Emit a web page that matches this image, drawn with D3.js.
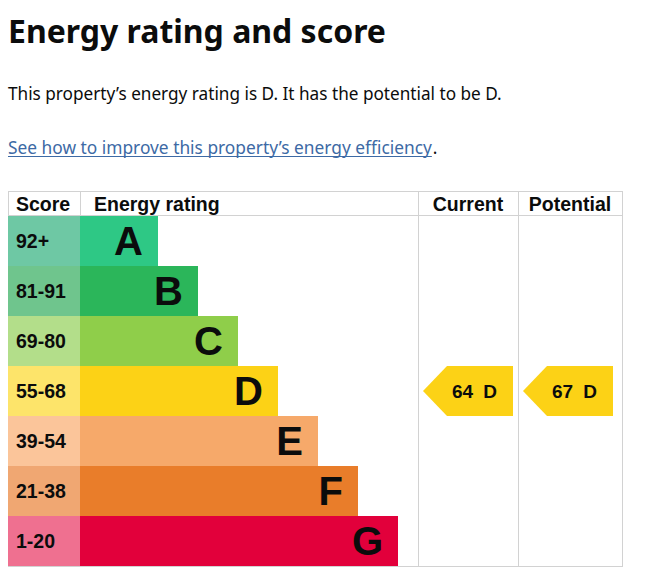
<!DOCTYPE html>
<meta charset="utf-8">
<style>
body { margin: 0; background: #fff; }
.gds { font-family: "Noto Sans", "DejaVu Sans", sans-serif; fill: #0b0c0c; }
.tbl { font-family: "Liberation Sans", Arial, sans-serif; font-weight: bold; fill: #0b0c0c; }
</style>
<svg width="651" height="586"></svg>
<script src="https://cdnjs.cloudflare.com/ajax/libs/d3/7.8.5/d3.min.js"></script>
<script>

// ---- data ----
var ratings = ["A", "B", "C", "D", "E", "F", "G"];
var scoreRanges = ["92+", "81-91", "69-80", "55-68", "39-54", "21-38", "1-20"];
var barColors = ["#2ec885", "#2bb65a", "#8fce4a", "#fcd216", "#f6a96a", "#e97d2a", "#e2003b"];
var scoreColors = ["#6ec8a4", "#6fc58d", "#b3de8a", "#fde46a", "#fbc59a", "#f0a772", "#ef7090"];
var columns = ["Score", "Energy rating", "Current", "Potential"];
var markers = [
  {column: "Current", score: 64, rating: "D"},
  {column: "Potential", score: 67, rating: "D"}
];

var svg = d3.select("svg");

// ---- heading text ----
function fitText(sel, target) {
  var w = sel.node().getComputedTextLength();
  var fs = parseFloat(sel.attr("font-size"));
  sel.attr("font-size", (fs * target / w).toFixed(2) + "px");
}

var title = svg.append("text")
  .attr("class", "gds")
  .attr("x", 8).attr("y", 43)
  .attr("font-size", "35px")
  .attr("font-weight", 700)
  .text("Energy rating and score");
fitText(title, 378);

var para = svg.append("text")
  .attr("class", "gds")
  .attr("x", 8).attr("y", 100)
  .attr("font-size", "19px")
  .text("This property\u2019s energy rating is D. It has the potential to be D.");
fitText(para, 494);

var link = svg.append("text")
  .attr("class", "gds")
  .attr("x", 8).attr("y", 154)
  .attr("font-size", "18px")
  .style("fill", "#3d6aa5")
  .text("See how to improve this property\u2019s energy efficiency");
fitText(link, 424);
var linkW = link.node().getComputedTextLength();
svg.append("line")
  .attr("x1", 8).attr("x2", 8 + linkW)
  .attr("y1", 156.5).attr("y2", 156.5)
  .attr("stroke", "#3d6aa5").attr("stroke-width", 1);
svg.append("text")
  .attr("class", "gds")
  .attr("x", 8 + linkW + 1).attr("y", 154)
  .attr("font-size", link.attr("font-size"))
  .text(".");

// ---- table layout ----
var tableLeft = 8, tableRight = 622, headTop = 191, headBottom = 216, tableBottom = 566;
var colEdges = [8, 80, 418, 518, 622];

var y = d3.scaleBand()
  .domain(ratings)
  .range([headBottom, tableBottom]);

// bar end grows with rating index
var barEnd = d3.scaleLinear()
  .domain([0, ratings.length - 1])
  .range([158, 398]);

var colX = d3.scaleOrdinal().domain(columns).range(colEdges.slice(0, 4));
var colW = d3.scaleOrdinal().domain(columns).range(colEdges.slice(1).map(function(e, i) { return e - colEdges[i]; }));

var grid = svg.append("g").attr("stroke", "#d2d2d2").attr("stroke-width", 1).attr("fill", "none");
grid.append("line").attr("x1", tableLeft).attr("x2", tableRight + 0.5).attr("y1", headTop + 0.5).attr("y2", headTop + 0.5);
grid.append("line").attr("x1", tableLeft).attr("x2", tableRight + 0.5).attr("y1", headBottom - 0.5).attr("y2", headBottom - 0.5);
grid.append("line").attr("x1", tableLeft).attr("x2", tableRight + 0.5).attr("y1", tableBottom + 0.5).attr("y2", tableBottom + 0.5);
grid.selectAll("line.v")
  .data(colEdges)
  .enter().append("line")
  .attr("class", "v")
  .attr("x1", function(d) { return d + 0.5; })
  .attr("x2", function(d) { return d + 0.5; })
  .attr("y1", headTop)
  .attr("y2", function(d, i) { return (i === 0 || i === 1) ? headBottom : tableBottom + 1; });

// header labels
var headerX = {"Score": 16, "Energy rating": 94};
svg.selectAll("text.head")
  .data(columns)
  .enter().append("text")
  .attr("class", "tbl head")
  .attr("font-size", "19.5px")
  .attr("y", 211)
  .attr("x", function(d) {
    return headerX[d] !== undefined ? headerX[d] : colX(d) + colW(d) / 2;
  })
  .attr("text-anchor", function(d) { return headerX[d] !== undefined ? "start" : "middle"; })
  .text(function(d) { return d; });

// rows
var rows = svg.selectAll("g.row")
  .data(ratings)
  .enter().append("g")
  .attr("class", "row")
  .attr("transform", function(d) { return "translate(0," + y(d) + ")"; });

rows.append("rect")
  .attr("x", colEdges[0])
  .attr("width", colEdges[1] - colEdges[0])
  .attr("height", y.bandwidth())
  .attr("fill", function(d, i) { return scoreColors[i]; });

rows.append("rect")
  .attr("x", colEdges[1])
  .attr("width", function(d, i) { return barEnd(i) - colEdges[1]; })
  .attr("height", y.bandwidth())
  .attr("fill", function(d, i) { return barColors[i]; });

rows.append("text")
  .attr("class", "tbl")
  .attr("font-size", "19.5px")
  .attr("x", 16)
  .attr("y", y.bandwidth() / 2 + 7)
  .text(function(d, i) { return scoreRanges[i]; });

rows.append("text")
  .attr("class", "tbl")
  .attr("font-size", "40px")
  .attr("text-anchor", "end")
  .attr("x", function(d, i) { return barEnd(i) - 15; })
  .attr("y", y.bandwidth() / 2 + 14)
  .text(function(d) { return d; });

// current / potential arrows
var tip = 24, inset = 5, arrowW = 90;
var arrows = svg.selectAll("g.marker")
  .data(markers)
  .enter().append("g")
  .attr("class", "marker")
  .attr("transform", function(d) { return "translate(" + (colX(d.column) + inset) + "," + y(d.rating) + ")"; });

arrows.append("path")
  .attr("fill", function(d) { return barColors[ratings.indexOf(d.rating)]; })
  .attr("d", function(d) {
    var h = y.bandwidth();
    return "M0," + h / 2 + "L" + tip + ",0H" + arrowW + "V" + h + "H" + tip + "Z";
  });

var lbl = arrows.append("text")
  .attr("class", "tbl")
  .attr("font-size", "19px")
  .attr("x", 29)
  .attr("y", y.bandwidth() / 2 + 7);
lbl.append("tspan").text(function(d) { return d.score; });
lbl.append("tspan").attr("dx", 10).text(function(d) { return d.rating; });

</script>
